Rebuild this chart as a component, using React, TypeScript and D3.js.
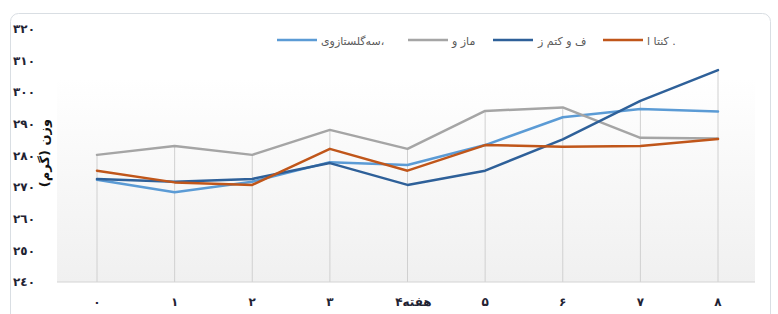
import React from "react";
import * as d3 from "d3";

const weeks = [0, 1, 2, 3, 4, 5, 6, 7, 8];
const xLabels = ["۰", "۱", "۲", "۳", "۴", "۵", "۶", "۷", "۸"];
const xLabelWords = ["", "", "", "", "هفته", "", "", "", ""];
const yTicks = [240, 250, 260, 270, 280, 290, 300, 310, 320];
const yTickLabels = ["٢٤٠", "٢٥٠", "٢٦٠", "٢٧٠", "٢٨٠", "٢٩٠", "٣٠٠", "٣١٠", "٣٢٠"];
const seriesNames = ["سه‌گلستازوی،", "ماز و", "ف و کتم ز", "کنتا ا ."];
const seriesColors = ["#5B9BD5", "#A5A5A5", "#2E6099", "#C0561A"];
const lightBlue = [272.3, 268.4, 271.7, 277.9, 277.0, 283.3, 292.1, 294.7, 293.9];
const gray = [280.2, 283.0, 280.2, 288.1, 282.1, 294.1, 295.2, 285.6, 285.4];
const darkBlue = [272.6, 271.7, 272.6, 277.6, 270.7, 275.2, 285.1, 297.3, 307.0];
const orange = [275.2, 271.5, 270.7, 282.1, 275.2, 283.3, 282.8, 283.0, 285.2];
const yTitle = "وزن (گرم)";

const allSeries = [lightBlue, gray, darkBlue, orange];

export default function App() {
  const W = 778;
  const H = 314;
  const x = d3.scaleLinear().domain([0, 8]).range([97, 718]);
  const y = d3.scaleLinear().domain([240, 320]).range([282, 29]);
  const line = d3
    .line<number>()
    .x((_, i) => x(weeks[i]))
    .y((d) => y(d));

  const legendItems = [
    { lx: 277, tx: 321 },
    { lx: 408, tx: 452 },
    { lx: 493, tx: 538 },
    { lx: 603, tx: 647 },
  ];

  const font = "'DejaVu Sans', sans-serif";

  return (
    <svg
      width={W}
      height={H}
      style={{ position: "fixed", left: 0, top: 0 }}
      xmlns="http://www.w3.org/2000/svg"
    >
      <defs>
        <linearGradient id="bg" x1="0" y1="0" x2="0" y2="1">
          <stop offset="0" stopColor="#ffffff" />
          <stop offset="1" stopColor="#f0f0f0" />
        </linearGradient>
      </defs>
      <rect x={0} y={0} width={W} height={H} fill="#ffffff" />
      <rect
        x={10.5}
        y={13.5}
        width={760}
        height={320}
        rx={8}
        fill="#ffffff"
        stroke="#d9dee3"
        strokeWidth={1}
      />
      <rect x={57} y={78} width={698} height={204} fill="url(#bg)" />
      {/* drop lines */}
      {weeks.map((w, i) => {
        const mx = d3.max(allSeries, (s) => s[i]) as number;
        return (
          <line
            key={"dl" + i}
            x1={x(w)}
            x2={x(w)}
            y1={y(mx)}
            y2={y(240)}
            stroke="#d0d0d0"
            strokeWidth={1}
          />
        );
      })}
      <line x1={57} x2={755} y1={y(240)} y2={y(240)} stroke="#d4d4d4" strokeWidth={1.2} />
      {/* series */}
      {allSeries.map((s, k) => (
        <path
          key={"s" + k}
          d={line(s) || ""}
          fill="none"
          stroke={seriesColors[k]}
          strokeWidth={2.5}
          strokeLinejoin="round"
          strokeLinecap="round"
        />
      ))}
      {/* y ticks */}
      {yTicks.map((t, i) => (
        <text
          key={"yt" + i}
          x={13}
          y={y(t)}
          dy="0.35em"
          fontFamily={font}
          fontSize={12}
          fontWeight="bold"
          fill="#1f2333"
          direction="ltr"
          textAnchor="start"
        >
          {yTickLabels[i]}
        </text>
      ))}
      {/* y title */}
      <text
        transform={`translate(44,${153}) rotate(-90)`}
        textAnchor="middle"
        dy="0.35em"
        fontFamily={font}
        fontSize={13}
        fontWeight="bold"
        fill="#111"
      >
        {yTitle}
      </text>
      {/* x labels */}
      {weeks.map((w, i) =>
        xLabelWords[i] ? (
          <g key={"xl" + i}>
            <text
              x={x(w) - 5}
              y={302}
              dy="0.35em"
              textAnchor="end"
              fontFamily={font}
              fontSize={12}
              fontWeight="bold"
              fill="#1f2333"
              direction="ltr"
            >
              {xLabels[i]}
            </text>
            <text
              x={x(w) - 5}
              y={302}
              dy="0.35em"
              textAnchor="start"
              fontFamily={font}
              fontSize={12}
              fontWeight="bold"
              fill="#1f2333"
              direction="ltr"
            >
              {xLabelWords[i]}
            </text>
          </g>
        ) : (
          <text
            key={"xl" + i}
            x={x(w)}
            y={302}
            dy="0.35em"
            textAnchor="middle"
            fontFamily={font}
            fontSize={12}
            fontWeight="bold"
            fill="#1f2333"
            direction="ltr"
          >
            {xLabels[i]}
          </text>
        )
      )}
      {/* legend */}
      {legendItems.map((it, k) => (
        <g key={"lg" + k}>
          <line
            x1={it.lx}
            x2={it.lx + 40}
            y1={40}
            y2={40}
            stroke={seriesColors[k]}
            strokeWidth={2.5}
          />
          <text
            x={it.tx}
            y={41}
            dy="0.35em"
            fontFamily={font}
            fontSize={11}
            fill="#595959"
            textAnchor="start"
          >
            {seriesNames[k]}
          </text>
        </g>
      ))}
    </svg>
  );
}
